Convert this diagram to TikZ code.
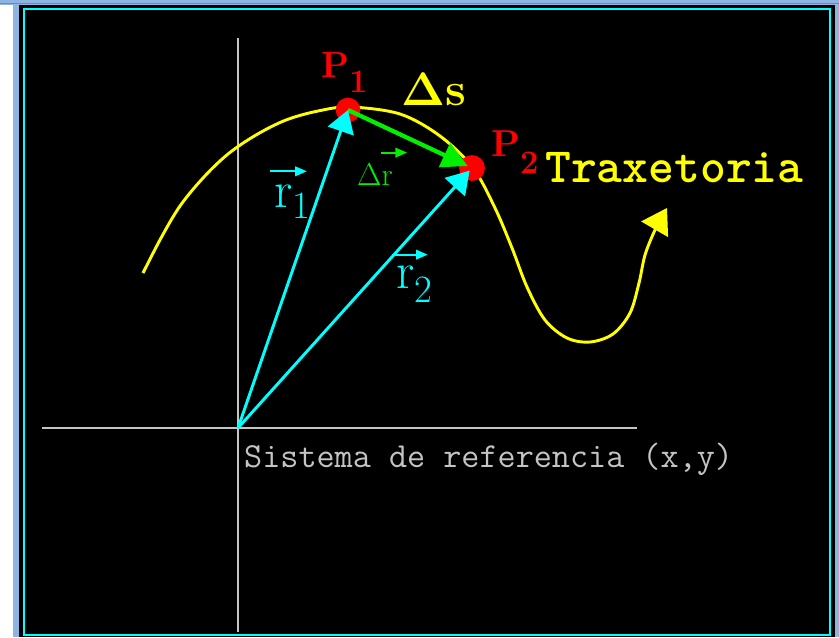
\RequirePackage{fix-cm}
\documentclass[tikz,border=0pt]{standalone}
\usepackage{fontspec}
\usetikzlibrary{arrows.meta}
\definecolor{framesky}{HTML}{8DB4E2}
\definecolor{frameline}{HTML}{5B8FD0}
\definecolor{axisgray}{HTML}{C4C4C4}
\definecolor{trajyellow}{HTML}{FFFF00}
\definecolor{veccyan}{HTML}{00FFFF}
\definecolor{dispgreen}{HTML}{00F000}
\definecolor{pointred}{HTML}{FF0000}
\newcommand{\lowidx}[3][30]{\raisebox{-#2}{\fontsize{#1}{#1}\selectfont #3}}

\begin{document}
\begin{tikzpicture}[
    x=0.03cm, y=-0.03cm,
    axisline/.style={draw=axisgray, line width=2.2pt},
    traj/.style={draw=trajyellow, line width=2.5pt, -{Triangle[length=21pt,width=26pt]}},
    posvec/.style={draw=veccyan, line width=2.5pt, -{Triangle[length=19pt,width=23pt]}},
    dispvec/.style={draw=dispgreen, line width=3.6pt, -{Triangle[length=22pt,width=22pt]}},
    vecmark/.style={line width=1.9pt, -{Triangle[length=10pt,width=8pt]}},
    pointdot/.style={circle, fill=pointred, inner sep=0pt, minimum size=21pt},
    lbl/.style={inner sep=0pt, anchor=base west}
  ]
    \useasboundingbox (0,0) rectangle (839,637);
    \fill[white] (0,0) rectangle (839,637);
    \fill[framesky] (0,0) rectangle (839,5);
    \fill[framesky] (13,5) rectangle (839,637);
    \draw[frameline, line width=1pt] (0,3.5) -- (839,3.5);
    \fill[black] (19,5) rectangle (835,637);
    \draw[veccyan, line width=0.9pt] (24,9) rectangle (830,635);

    \coordinate (O) at (238,428);
    \coordinate (xleft) at (42,428);
    \coordinate (xright) at (637,428);
    \coordinate (ytop) at (238,38);
    \coordinate (ybottom) at (238,632);
    \draw[axisline] (xleft) -- (xright);
    \draw[axisline] (ytop) -- (ybottom);

    \draw[traj] plot[smooth, tension=0.55] coordinates {(143,273) (161,238) (180,206) (203,178) (228,154) (256,135) (286,120) (318,111) (350,107) (400,114) (440,136) (473,168) (495,208) (512,248) (527,287) (545,320) (567,338) (590,342) (613,334) (630,313) (639,283) (645,255) (655,230) (667,208)};

    \node[pointdot] (P1) at (348,110) {};
    \node[pointdot, minimum size=22pt] (P2) at (472,168) {};

    \draw[dispvec, shorten >=4pt] (P1.center) -- (P2.center);
    \draw[posvec] (O) -- (P1.center);
    \draw[posvec, shorten >=3pt] (O) -- (P2.center);

    \node[lbl, text=pointred, font=\fontsize{31}{31}\selectfont\bfseries] (P1lbl) at (321,77) {P\lowidx[28]{13.5pt}{1}};
    \node[lbl, text=pointred, font=\fontsize{32}{32}\selectfont\bfseries] (P2lbl) at (491,156) {P\lowidx[28]{15pt}{2}};
    \node[lbl, text=trajyellow, font=\fontsize{40}{40}\selectfont\bfseries\boldmath] (dslbl) at (401,105) {$\Delta$s};
    \node[lbl, text=dispgreen, font=\fontsize{27}{27}\selectfont] (drlbl) at (357,185) {$\Delta$r};
    \node[lbl, text=veccyan, font=\fontsize{44}{44}\selectfont] (r1lbl) at (274,207) {r\lowidx[33]{9.5pt}{1}};
    \node[lbl, text=veccyan, font=\fontsize{44}{44}\selectfont] (r2lbl) at (396,288) {r\lowidx[33]{12.5pt}{2}};
    \node[lbl, text=trajyellow, font=\fontsize{42}{42}\selectfont\ttfamily\bfseries] (trajlbl) at (545,182) {Traxetoria};
    \node[lbl, text=axisgray, font=\fontsize{30}{30}\selectfont\ttfamily] (framelbl) at (244,467) {Sistema de referencia (x,y)};

    \draw[vecmark, dispgreen] ([xshift=-10pt,yshift=9pt]drlbl.north east) -- ([xshift=12pt,yshift=9pt]drlbl.north east);
    \draw[vecmark, veccyan] ([xshift=-3pt,yshift=11pt]r1lbl.north west) -- ([xshift=-3pt,yshift=11pt]r1lbl.north east);
    \draw[vecmark, veccyan] ([xshift=-3pt,yshift=9pt]r2lbl.north west) -- ([xshift=-4pt,yshift=9pt]r2lbl.north east);
  \end{tikzpicture}
\end{document}
